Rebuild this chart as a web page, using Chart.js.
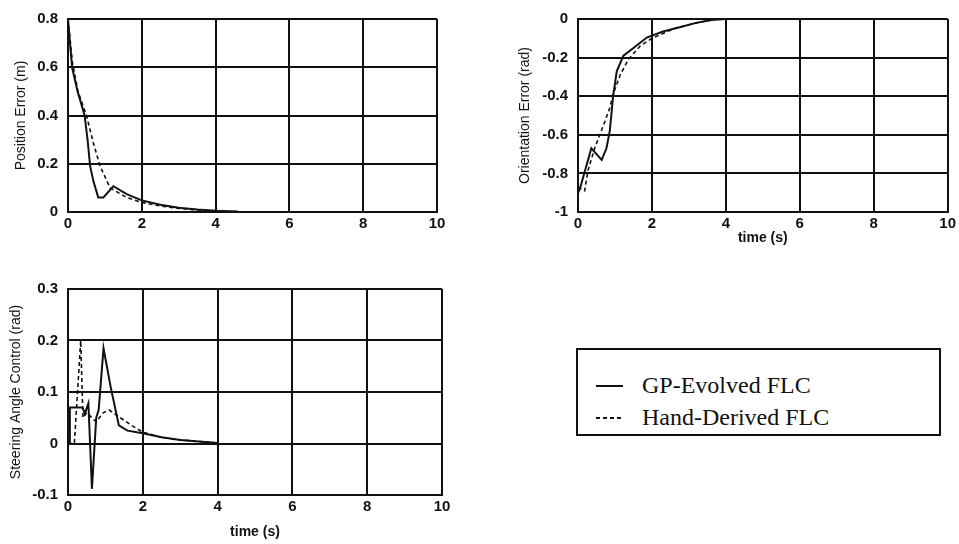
<!DOCTYPE html>
<html>
<head>
<meta charset="utf-8">
<script src="https://cdn.jsdelivr.net/npm/chart.js@4/dist/chart.umd.min.js"></script>
<style>
  body { margin: 0; background: #fff; }
  #wrap { position: relative; width: 959px; height: 544px; overflow: hidden; }
  canvas { position: absolute; }
  #legend {
    position: absolute; left: 576px; top: 348px; width: 361px; height: 84px;
    border: 2px solid #111; font-family: "Liberation Serif", "Times New Roman", serif;
    font-size: 24px; color: #111;
  }
  .row { position: absolute; left: 18px; height: 26px; line-height: 26px; }
  .sample { position: absolute; left: 0; top: 13px; width: 27px; height: 2px; }
  .txt { position: absolute; left: 46px; top: 0; white-space: nowrap; }
</style>
</head>
<body>
<div id="wrap">
  <canvas id="pos" width="450" height="240" style="left:0;top:0"></canvas>
  <canvas id="ori" width="459" height="260" style="left:500px;top:0"></canvas>
  <canvas id="steer" width="460" height="274" style="left:0;top:270px"></canvas>
  <div id="legend">
    <div class="row" style="top:22px"><span class="sample" style="background:#111"></span><span class="txt">GP-Evolved FLC</span></div>
    <div class="row" style="top:54px"><span class="sample" style="background:repeating-linear-gradient(90deg,#111 0 4px,transparent 4px 7px)"></span><span class="txt">Hand-Derived FLC</span></div>
  </div>
</div>
<script>
// position error (m)
const posTimeGP = [0, 0.11, 0.26, 0.45, 0.53, 0.6, 0.69, 0.82, 0.96, 1.23, 1.59, 2.0, 2.5, 3, 3.5, 4, 4.6];
const posGP = [0.8, 0.6, 0.5, 0.4, 0.3, 0.19, 0.127, 0.06, 0.06, 0.107, 0.074, 0.048, 0.03, 0.018, 0.01, 0.005, 0.002];
const posTimeHand = [0, 0.12, 0.27, 0.5, 0.69, 0.87, 1.14, 1.59, 2.0, 2.5, 3, 3.5, 4];
const posHand = [0.8, 0.62, 0.5, 0.40, 0.285, 0.19, 0.1, 0.06, 0.04, 0.025, 0.015, 0.008, 0.002];

// orientation error (rad)
const oriTimeGP = [0, 0.05, 0.14, 0.36, 0.5, 0.64, 0.77, 0.86, 0.95, 1.05, 1.23, 1.5, 1.86, 2.3, 2.8, 3.2, 3.6, 4.0, 4.5];
const oriGP = [-0.9, -0.88, -0.82, -0.67, -0.70, -0.73, -0.67, -0.58, -0.40, -0.27, -0.19, -0.15, -0.096, -0.065, -0.04, -0.02, -0.005, 0, 0];
const oriTimeHand = [0, 0.18, 0.27, 0.45, 0.59, 0.73, 0.86, 0.95, 1.14, 1.36, 1.68, 2.0, 2.6, 3.2, 3.8];
const oriHand = [-0.87, -0.89, -0.785, -0.67, -0.6, -0.53, -0.46, -0.39, -0.29, -0.21, -0.14, -0.10, -0.05, -0.02, 0];

// steering angle control (rad)
const steerTimeGP = [0, 0.04, 0.05, 0.39, 0.45, 0.545, 0.64, 0.755, 0.82, 0.95, 1.14, 1.36, 1.59, 2.0, 2.5, 3, 3.5, 4];
const steerGP = [0, 0, 0.07, 0.07, 0.058, 0.078, -0.088, 0.05, 0.065, 0.185, 0.11, 0.035, 0.025, 0.02, 0.012, 0.007, 0.004, 0.001];
const steerTimeHand = [0, 0.17, 0.34, 0.4, 0.5, 0.75, 0.95, 1.1, 1.4, 1.7, 2.0, 2.5, 3, 3.5, 3.9];
const steerHand = [0, 0, 0.2, 0.05, 0.06, 0.042, 0.06, 0.065, 0.05, 0.035, 0.022, 0.012, 0.007, 0.004, 0.002];

const timeTicks = [0, 2, 4, 6, 8, 10];
const ink = '#111';
const sans = '"Liberation Sans", Arial, sans-serif';

const toPts = (xs, ys) => xs.map((x, i) => ({ x: x, y: ys[i] }));

const makePlot = (id, cfg) => {
    const ctx = document.getElementById(id);
    return new Chart(ctx, {
        type: 'line',
        data: {
            datasets: [{
                label: 'GP-Evolved FLC',
                data: toPts(cfg.tGP, cfg.yGP),
                borderColor: ink,
                borderWidth: 2,
                pointRadius: 0,
                tension: 0
            }, {
                label: 'Hand-Derived FLC',
                data: toPts(cfg.tHand, cfg.yHand),
                borderColor: ink,
                borderWidth: 1.6,
                borderDash: [4, 3],
                pointRadius: 0,
                tension: 0
            }]
        },
        options: {
            responsive: false,
            animation: false,
            layout: { padding: { top: cfg.padTop, right: cfg.padRight, left: 0, bottom: 0 } },
            plugins: { legend: { display: false }, tooltip: { enabled: false } },
            scales: {
                x: {
                    type: 'linear', min: 0, max: 10,
                    afterFit: s => { s.height = cfg.xH; },
                    afterBuildTicks: s => { s.ticks = timeTicks.map(v => ({ value: v })); },
                    grid: { color: ink, lineWidth: 2, drawTicks: false },
                    border: { color: ink, width: 2 },
                    ticks: { color: ink, padding: 3, maxRotation: 0, callback: v => String(v), font: { family: sans, size: 15, weight: 'bold' } },
                    title: {
                        display: cfg.xTitle, text: 'time (s)', color: ink,
                        padding: { top: 0, bottom: cfg.xTitlePad },
                        font: { family: sans, size: 14, weight: 'bold' }
                    }
                },
                y: {
                    min: cfg.yMin, max: cfg.yMax,
                    afterFit: s => { s.width = cfg.yW; },
                    afterBuildTicks: s => { s.ticks = cfg.yTicks.map(v => ({ value: v })); },
                    grid: { color: ink, lineWidth: 2, drawTicks: false },
                    border: { color: ink, width: 2 },
                    ticks: { color: ink, padding: 10, callback: v => String(v), font: { family: sans, size: 15, weight: 'bold' } },
                    title: {
                        display: true, text: cfg.yTitle, color: ink,
                        padding: { top: cfg.yTitlePad, bottom: 0 },
                        font: { family: sans, size: 14 }
                    }
                }
            }
        }
    });
};

makePlot('pos', {
    tGP: posTimeGP, yGP: posGP, tHand: posTimeHand, yHand: posHand,
    yMin: 0, yMax: 0.8, yTicks: [0, 0.2, 0.4, 0.6, 0.8],
    yTitle: 'Position Error (m)', yTitlePad: 13, xTitle: false, xTitlePad: 0,
    padTop: 10, padRight: 13, xH: 28, yW: 68
});
makePlot('ori', {
    tGP: oriTimeGP, yGP: oriGP, tHand: oriTimeHand, yHand: oriHand,
    yMin: -1, yMax: 0, yTicks: [-1, -0.8, -0.6, -0.4, -0.2, 0],
    yTitle: 'Orientation Error (rad)', yTitlePad: 17, xTitle: true, xTitlePad: 13,
    padTop: 8, padRight: 8, xH: 48, yW: 78
});
makePlot('steer', {
    tGP: steerTimeGP, yGP: steerGP, tHand: steerTimeHand, yHand: steerHand,
    yMin: -0.1, yMax: 0.3, yTicks: [-0.1, 0, 0.1, 0.2, 0.3],
    yTitle: 'Steering Angle Control (rad)', yTitlePad: 8, xTitle: true, xTitlePad: 3,
    padTop: 19, padRight: 18, xH: 49, yW: 68
});
</script>
</body>
</html>
